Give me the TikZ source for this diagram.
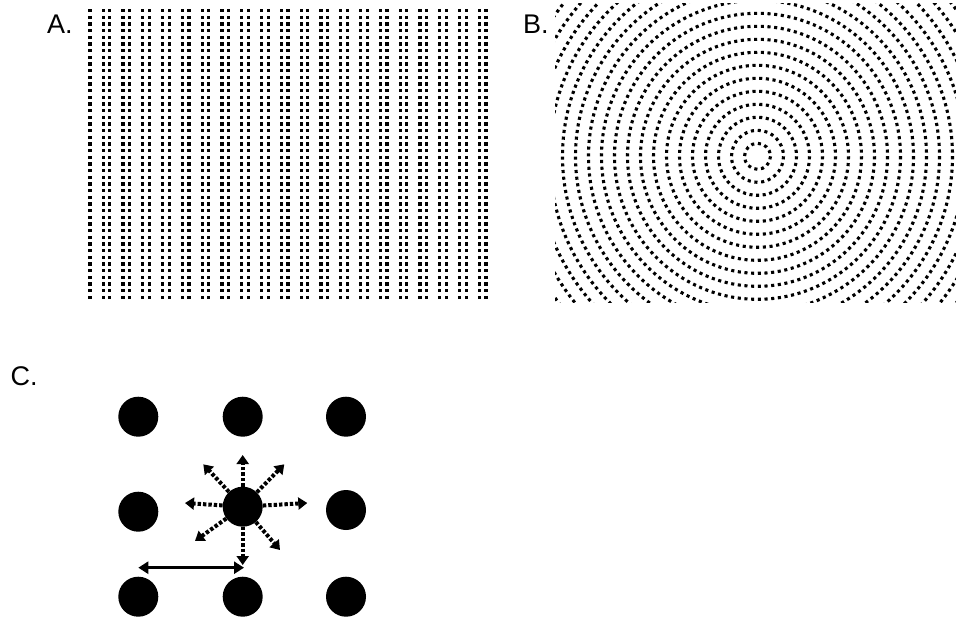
\documentclass[tikz,border=0pt]{standalone}
\usepackage{fontspec}
\setmainfont{Liberation Sans}
\usetikzlibrary{arrows.meta}

\begin{document}
\begin{tikzpicture}[x=1pt,y=-1pt,
  lbl/.style={anchor=base west, inner sep=0pt, font=\fontsize{27}{27}\selectfont},
  dotcol/.style={line width=3.1pt, dash pattern=on 3.1pt off 3.565pt},
  bigdot/.style={circle, fill=black, minimum size=40pt, inner sep=0pt},
  spoke/.style={line width=4pt, dash pattern=on 3.4pt off 2pt,
                -{Triangle[length=9pt,width=12pt]}},
  span/.style={line width=3.2pt,
               {Triangle[length=10pt,width=12pt]}-{Triangle[length=10pt,width=12pt]}}]
\useasboundingbox (0,0) rectangle (956,619);
\fill[white] (0,0) rectangle (956,619);

% Panel labels
\node[lbl] (la) at (47,33.3) {A.};
\node[lbl] (lb) at (523,33.3) {B.};
\node[lbl] (lc) at (10.5,385) {C.};

% A: dot lattice, every third column left out
\foreach \j in {0,...,60}{
  \pgfmathtruncatemacro\m{mod(\j,3)}
  \ifnum\m=1\relax\else
    \pgfmathsetmacro\xx{90+6.6*\j}
    \draw[dotcol] (\xx,9.15) -- (\xx,299.5);
  \fi}

% B: concentric dotted rings
\begin{scope}
  \clip (555,3) rectangle (957,302);
  \foreach \k in {1,...,20}{
    \pgfmathsetmacro\r{13*\k}
    \pgfmathtruncatemacro\n{round(2*pi*\r/6.7)}
    \pgfmathsetmacro\off{2*pi*\r/\n-3.1}
    \draw[line width=3.1pt, dash pattern=on 3.1pt off \off pt] (757.5,156.3) circle (\r);
  }
\end{scope}

% C: 3x3 grid of discs
\node[bigdot] (n11) at (138.3,416.7) {};
\node[bigdot] (n12) at (242.7,416.7) {};
\node[bigdot] (n13) at (346,416.7) {};
\node[bigdot] (n21) at (138.3,511.7) {};
\node[bigdot] (n22) at (242.7,506.7) {};
\node[bigdot] (n23) at (346,510) {};
\node[bigdot] (n31) at (138.3,596.7) {};
\node[bigdot] (n32) at (242.7,596.7) {};
\node[bigdot] (n33) at (346,596.7) {};

% ends of the dotted spokes
\coordinate (tN)  at (242.7,455);
\coordinate (tS)  at (242.7,565);
\coordinate (tE)  at (307.3,503);
\coordinate (tW)  at (185,503);
\coordinate (tNW) at (203.3,464.3);
\coordinate (tNE) at (284.3,464.3);
\coordinate (tSW) at (195,541);
\coordinate (tSE) at (280,550);
\foreach \t in {tN,tS,tE,tW,tNW,tNE,tSW,tSE}
  \draw[spoke] (n22) -- (\t);

% spacing marker
\coordinate (hL) at (138.3,567.7);
\coordinate (hR) at (244,567.7);
\draw[span] (hL) -- (hR);
\end{tikzpicture}
\end{document}
